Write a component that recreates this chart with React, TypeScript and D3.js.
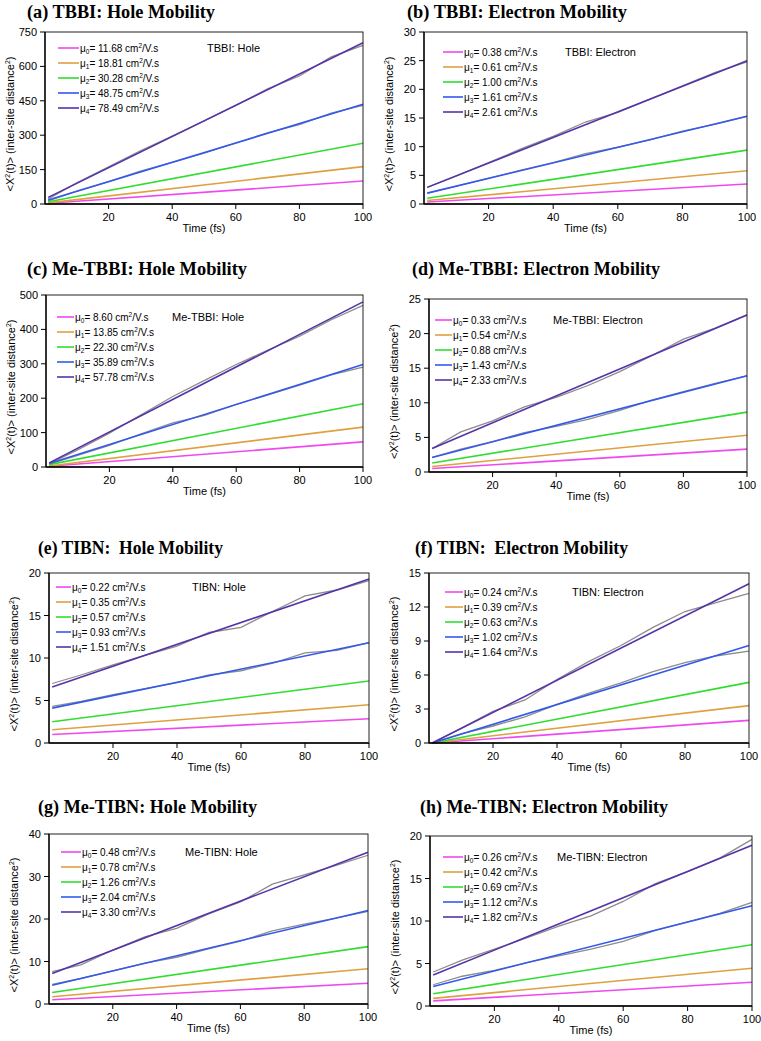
import React from "react";
import * as d3 from "d3";

const PANEL_TITLES = [
  "(a) TBBI: Hole Mobility",
  "(b) TBBI: Electron Mobility",
  "(c) Me-TBBI: Hole Mobility",
  "(d) Me-TBBI: Electron Mobility",
  "(e) TIBN:  Hole Mobility",
  "(f) TIBN:  Electron Mobility",
  "(g) Me-TIBN: Hole Mobility",
  "(h) Me-TIBN: Electron Mobility",
];
const ANNOTATIONS = [
  "TBBI: Hole", "TBBI: Electron", "Me-TBBI: Hole", "Me-TBBI: Electron",
  "TIBN: Hole", "TIBN: Electron", "Me-TIBN: Hole", "Me-TIBN: Electron",
];
const MOBILITIES = [
  ["11.68", "18.81", "30.28", "48.75", "78.49"],
  ["0.38", "0.61", "1.00", "1.61", "2.61"],
  ["8.60", "13.85", "22.30", "35.89", "57.78"],
  ["0.33", "0.54", "0.88", "1.43", "2.33"],
  ["0.22", "0.35", "0.57", "0.93", "1.51"],
  ["0.24", "0.39", "0.63", "1.02", "1.64"],
  ["0.48", "0.78", "1.26", "2.04", "3.30"],
  ["0.26", "0.42", "0.69", "1.12", "1.82"],
];
const Y_TICKS = [
  [0, 150, 300, 450, 600, 750],
  [0, 5, 10, 15, 20, 25, 30],
  [0, 100, 200, 300, 400, 500],
  [0, 5, 10, 15, 20, 25],
  [0, 5, 10, 15, 20],
  [0, 3, 6, 9, 12, 15],
  [0, 10, 20, 30, 40],
  [0, 5, 10, 15, 20],
];
const X_TICKS = [20, 40, 60, 80, 100];
const FIT_X = [1, 100];
// fitted line values at t=1 fs (start) and t=100 fs (end), series mu0..mu4
const FIT_START = [
  [3, 5, 10, 17, 29],
  [0.35, 0.6, 1.0, 1.9, 2.9],
  [2, 3, 7, 10, 12],
  [0.5, 0.8, 1.3, 2.1, 3.4],
  [1.0, 1.55, 2.5, 4.1, 6.6],
  [0.0, 0.0, 0.0, 0.0, 0.0],
  [1.0, 1.7, 2.7, 4.4, 7.2],
  [0.6, 0.9, 1.45, 2.3, 3.65],
];
const FIT_END = [
  [100, 163, 265, 435, 703],
  [3.5, 5.8, 9.4, 15.3, 25.0],
  [73, 116, 184, 298, 480],
  [3.3, 5.3, 8.65, 13.9, 22.7],
  [2.85, 4.5, 7.3, 11.8, 19.3],
  [2.0, 3.3, 5.35, 8.6, 14.05],
  [4.9, 8.3, 13.5, 22.0, 35.7],
  [2.8, 4.45, 7.2, 11.8, 18.9],
];
// raw (noisy) simulation data, sampled
const RAW_X = [1, 10, 20, 30, 40, 50, 60, 70, 80, 90, 100];
const RAW_MU3 = [
  [14, 56, 98, 143, 182, 222, 266, 310, 346, 396, 430],
  [1.9, 3.1, 4.5, 5.9, 7.2, 8.8, 9.9, 11.2, 12.7, 13.9, 15.3],
  [8, 34, 63, 96, 128, 150, 182, 210, 238, 268, 290],
  [2.1, 3.3, 4.4, 5.7, 6.6, 7.6, 8.9, 10.4, 11.6, 12.8, 13.9],
  [4.3, 4.9, 5.7, 6.4, 7.1, 8.0, 8.5, 9.4, 10.6, 10.9, 11.8],
  [0, 0.8, 1.5, 2.3, 3.4, 4.4, 5.3, 6.3, 7.1, 7.7, 8.1],
  [4.6, 6.0, 7.8, 9.6, 11.0, 13.0, 14.8, 17.2, 18.8, 20.2, 21.8],
  [2.5, 3.5, 4.2, 5.1, 5.9, 6.7, 7.6, 8.9, 9.9, 10.9, 12.2],
];
const RAW_MU4 = [
  [22, 92, 162, 232, 296, 362, 430, 502, 558, 642, 692],
  [2.9, 4.9, 7.2, 9.6, 11.8, 14.3, 16.0, 18.3, 20.6, 22.9, 24.8],
  [10, 50, 98, 152, 205, 252, 298, 340, 380, 428, 470],
  [3.4, 5.8, 7.4, 9.4, 10.8, 12.5, 14.5, 16.8, 19.2, 20.8, 22.7],
  [7.0, 8.0, 9.2, 10.3, 11.4, 13.0, 13.6, 15.5, 17.3, 18.0, 19.1],
  [0, 1.3, 2.8, 3.8, 5.6, 7.2, 8.6, 10.2, 11.6, 12.4, 13.2],
  [7.6, 9.2, 12.7, 15.8, 17.8, 21.2, 24.0, 28.2, 30.4, 32.6, 35.0],
  [4.0, 5.4, 6.7, 8.0, 9.4, 10.6, 12.3, 14.4, 15.8, 17.4, 19.6],
];

const COLORS = ["#f048f0", "#dfa040", "#30dd30", "#3358ee", "#5533a8"];

const LAYOUT = [
  { l: 45, t: 32, r: 363, b: 204, tx: 27, ty: 18, tw: 188, ax: 162, ly: 16, lx: 13, lw: 21 },
  { l: 424, t: 32, r: 747, b: 204, tx: 407, ty: 18, tw: 220, ax: 141, ly: 20, lx: 19, lw: 20 },
  { l: 46, t: 295, r: 363, b: 467, tx: 27, ty: 275, tw: 220, ax: 126, ly: 22, lx: 11, lw: 17 },
  { l: 429, t: 299, r: 747, b: 472, tx: 412, ty: 275, tw: 248, ax: 124, ly: 21, lx: 6, lw: 17 },
  { l: 49, t: 573, r: 369, b: 743, tx: 38, ty: 554, tw: 185, ax: 143, ly: 14, lx: 7, lw: 15 },
  { l: 429, t: 573, r: 749, b: 743, tx: 415, ty: 554, tw: 213, ax: 143, ly: 19, lx: 16, lw: 18 },
  { l: 49, t: 834, r: 368, b: 1004, tx: 38, ty: 813, tw: 219, ax: 136, ly: 18, lx: 12, lw: 20 },
  { l: 430, t: 836, r: 752, b: 1006, tx: 420, ty: 813, tw: 248, ax: 127, ly: 21, lx: 13, lw: 20 },
];

const SANS = "'Liberation Sans', Arial, sans-serif";
const SERIF = "'Liberation Serif', 'Times New Roman', serif";

function Panel({ i }: { i: number }) {
  const L = LAYOUT[i];
  const yt = Y_TICKS[i];
  const x = d3.scaleLinear().domain([0, 100]).range([L.l, L.r]);
  const y = d3.scaleLinear().domain([0, yt[yt.length - 1]]).range([L.b, L.t]);
  const line = d3
    .line<[number, number]>()
    .x((d) => x(d[0]))
    .y((d) => y(d[1]));
  const raws = [RAW_MU3[i], RAW_MU4[i]];
  const midY = (L.t + L.b) / 2 + 6;
  return (
    <g>
      <text
        x={L.tx}
        y={L.ty}
        fontFamily={SERIF}
        fontWeight="bold"
        fontSize={18}
        textLength={L.tw}
        lengthAdjust="spacingAndGlyphs"
        style={{ whiteSpace: "pre" }}
      >
        {PANEL_TITLES[i]}
      </text>
      {raws.map((r, k) => (
        <path
          key={"raw" + k}
          d={line(RAW_X.map((xv, j) => [xv, r[j]] as [number, number])) || ""}
          fill="none"
          stroke="#8c8c8c"
          strokeWidth={1.3}
        />
      ))}
      {COLORS.map((c, s) => (
        <path
          key={"fit" + s}
          d={line([[FIT_X[0], FIT_START[i][s]], [FIT_X[1], FIT_END[i][s]]]) || ""}
          fill="none"
          stroke={c}
          strokeWidth={1.6}
        />
      ))}
      <rect x={L.l} y={L.t} width={L.r - L.l} height={L.b - L.t} fill="none" stroke="#222" strokeWidth={1} />
      <line x1={L.l} x2={L.l} y1={L.t} y2={L.b} stroke="#000" strokeWidth={1.3} />
      <line x1={L.l} x2={L.r} y1={L.b} y2={L.b} stroke="#000" strokeWidth={1.3} />
      {yt.map((v) => (
        <g key={"yt" + v}>
          <line x1={L.l - 5} x2={L.l} y1={y(v)} y2={y(v)} stroke="#000" strokeWidth={1} />
          <text x={L.l - 8} y={y(v) + 4} textAnchor="end" fontFamily={SANS} fontSize={11}>
            {v}
          </text>
        </g>
      ))}
      {X_TICKS.map((v) => (
        <g key={"xt" + v}>
          <line x1={x(v)} x2={x(v)} y1={L.b} y2={L.b + 5} stroke="#000" strokeWidth={1} />
          <text x={x(v)} y={L.b + 17} textAnchor="middle" fontFamily={SANS} fontSize={11}>
            {v}
          </text>
        </g>
      ))}
      <text x={(L.l + L.r) / 2} y={L.b + 28} textAnchor="middle" fontFamily={SANS} fontSize={11}>
        Time (fs)
      </text>
      <text
        transform={`translate(${L.l - 31},${midY}) rotate(-90)`}
        textAnchor="middle"
        fontFamily={SANS}
        fontSize={11}
      >
        {"<X"}
        <tspan dy={-4} fontSize={7}>2</tspan>
        <tspan dy={4}>{"(t)> (inter-site distance"}</tspan>
        <tspan dy={-4} fontSize={7}>2</tspan>
        <tspan dy={4}>{")"}</tspan>
      </text>
      <text x={L.l + L.ax} y={L.t + L.ly + 4} fontFamily={SANS} fontSize={11}>
        {ANNOTATIONS[i]}
      </text>
      {COLORS.map((c, s) => {
        const ry = L.t + L.ly + s * 15;
        return (
          <g key={"lg" + s}>
            <line x1={L.l + L.lx} x2={L.l + L.lx + L.lw} y1={ry} y2={ry} stroke={c} strokeWidth={1.6} />
            <text x={L.l + L.lx + L.lw + 1} y={ry + 3.5} fontFamily={SANS} fontSize={10}>
              {"μ"}
              <tspan dy={2} fontSize={6.5}>{s}</tspan>
              <tspan dy={-2}>{"= " + MOBILITIES[i][s] + " cm"}</tspan>
              <tspan dy={-3.5} fontSize={6.5}>2</tspan>
              <tspan dy={3.5}>{"/V.s"}</tspan>
            </text>
          </g>
        );
      })}
    </g>
  );
}

export default function App() {
  return (
    <svg width={761} height={1041} style={{ position: "absolute", left: 0, top: 0, background: "#fff" }}>
      <rect width={761} height={1041} fill="#fff" />
      {PANEL_TITLES.map((_, i) => (
        <Panel key={i} i={i} />
      ))}
    </svg>
  );
}
